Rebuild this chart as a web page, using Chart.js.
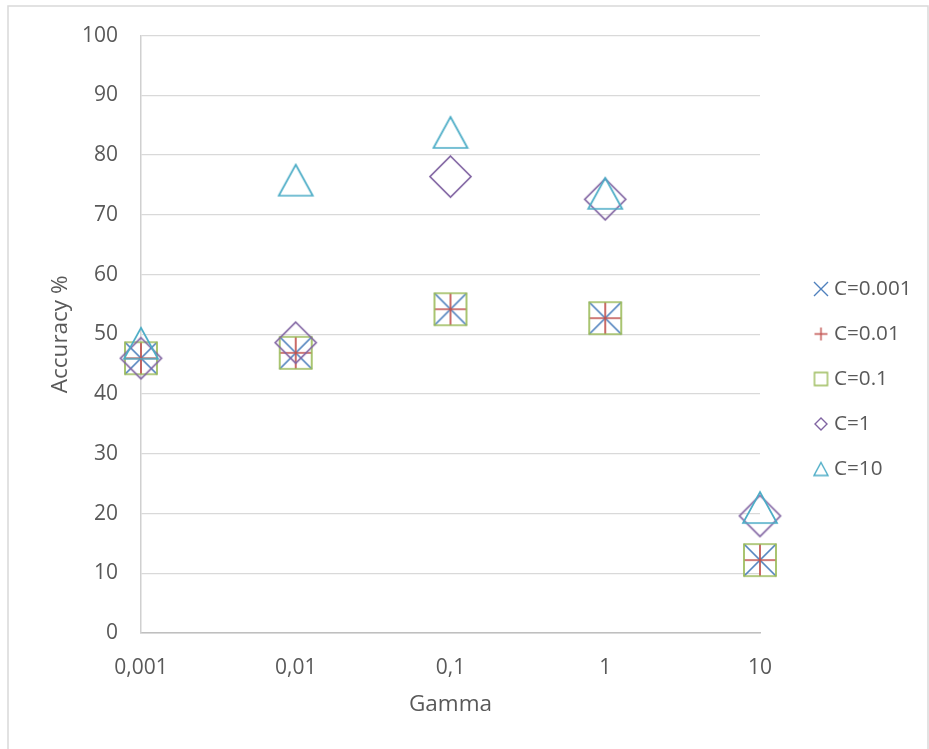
<!DOCTYPE html>
<html>
<head>
<meta charset="utf-8">
<script src="https://cdn.jsdelivr.net/npm/chart.js@4/dist/chart.umd.min.js"></script>
<style>
  html, body { margin: 0; padding: 0; background: #ffffff; }
  canvas { display: block; }
</style>
</head>
<body>
<canvas id="chart" width="929" height="749"></canvas>
<script>
// Gamma values on the x axis and their printed labels
const gammas = [0.001, 0.01, 0.1, 1, 10];
const gammaLabels = ['0,001', '0,01', '0,1', '1', '10'];

// Accuracy (%) per C value, one entry per gamma
const seriesNames = ['C=0.001', 'C=0.01', 'C=0.1', 'C=1', 'C=10'];
const accC0001 = [46.0, 46.9, 54.2, 52.7, 12.2];
const accC001  = [46.0, 46.9, 54.2, 52.7, 12.2];
const accC01   = [46.0, 46.9, 54.2, 52.7, 12.2];
const accC1    = [46.0, 48.6, 76.4, 72.6, 19.6];
const accC10   = [48.5, 75.8, 83.8, 73.6, 21.0];

// Y axis ticks
const yTicks = [0, 10, 20, 30, 40, 50, 60, 70, 80, 90, 100];

const TEXT = '#595959';
const FONT = '"Open Sans", "Noto Sans", sans-serif';
const TICK_FONT = { family: FONT, size: 21 };
const TITLE_FONT = { family: FONT, size: 22.5 };
const LEGEND_FONT = { family: FONT, size: 20.7 };

// Outline markers drawn onto small canvases (centred on the data point)
function markerCanvas(shape, w, h, color, lw) {
  const pad = 2;
  const c = document.createElement('canvas');
  c.width = w + 2 * pad;
  c.height = h + 2 * pad;
  const g = c.getContext('2d');
  g.strokeStyle = color;
  g.lineWidth = lw;
  g.lineJoin = 'miter';
  const x0 = pad, y0 = pad, x1 = pad + w, y1 = pad + h;
  const cx = pad + w / 2, cy = pad + h / 2;
  g.beginPath();
  if (shape === 'x') {
    g.moveTo(x0, y0); g.lineTo(x1, y1);
    g.moveTo(x1, y0); g.lineTo(x0, y1);
  } else if (shape === 'plus') {
    g.moveTo(cx, y0); g.lineTo(cx, y1);
    g.moveTo(x0, cy); g.lineTo(x1, cy);
  } else if (shape === 'square') {
    g.rect(x0, y0, w, h);
  } else if (shape === 'diamond') {
    g.moveTo(cx, y0); g.lineTo(x1, cy); g.lineTo(cx, y1); g.lineTo(x0, cy); g.closePath();
  } else if (shape === 'triangle') {
    g.moveTo(cx, y0); g.lineTo(x1, y1); g.lineTo(x0, y1); g.closePath();
  }
  g.stroke();
  return c;
}

const colors = ['#4F81BD', '#C0504D', '#9BBB59', '#8064A2', '#4BACC6'];
const plotMarkers = [
  markerCanvas('x', 32, 32, colors[0], 1.7),
  markerCanvas('plus', 32, 32, colors[1], 1.7),
  markerCanvas('square', 32, 32, colors[2], 1.7),
  markerCanvas('diamond', 41, 41, colors[3], 1.7),
  markerCanvas('triangle', 34, 31, colors[4], 1.7)
];
const legendMarkers = [
  markerCanvas('x', 14, 14, colors[0], 1.4),
  markerCanvas('plus', 13, 13, colors[1], 1.4),
  markerCanvas('square', 13, 13, colors[2], 1.4),
  markerCanvas('diamond', 12, 12, colors[3], 1.4),
  markerCanvas('triangle', 14, 13, colors[4], 1.4)
];

const seriesValues = [accC0001, accC001, accC01, accC1, accC10];
const datasets = seriesValues.map((vals, i) => ({
  label: seriesNames[i],
  data: gammas.map((g, j) => ({ x: g, y: vals[j] })),
  pointStyle: plotMarkers[i],
  borderColor: colors[i],
  backgroundColor: colors[i],
  showLine: false,
  clip: false,
  order: seriesValues.length - i
}));

// Frame around the whole chart and fixed legend geometry
const framePlugin = {
  id: 'frame',
  afterInit(chart) {
    const lg = chart.legend;
    const fit = lg.fit.bind(lg);
    lg.fit = function () { fit(); this.width = 169; };
  },
  afterLayout(chart) {
    const lg = chart.legend;
    lg.left = 794;
    lg.right = 929;
  },
  beforeDraw(chart) {
    const ctx = chart.ctx;
    ctx.save();
    ctx.strokeStyle = '#D9D9D9';
    ctx.lineWidth = 1.5;
    ctx.strokeRect(8, 6, 920, 800);
    ctx.restore();
  }
};

new Chart(document.getElementById('chart'), {
  type: 'scatter',
  data: { datasets },
  plugins: [framePlugin],
  options: {
    responsive: false,
    animation: false,
    layout: { padding: { left: 0, right: 0, top: 35, bottom: 26 } },
    font: { family: FONT, size: 21 },
    color: TEXT,
    scales: {
      x: {
        type: 'logarithmic',
        min: gammas[0],
        max: gammas[gammas.length - 1],
        afterFit(s) { s.height = 90; },
        afterBuildTicks(s) { s.ticks = gammas.map(v => ({ value: v })); },
        grid: { display: false, drawTicks: false },
        border: { display: true, color: '#BFBFBF', width: 1.5 },
        ticks: {
          padding: 22,
          color: TEXT,
          font: TICK_FONT,
          maxRotation: 0,
          autoSkip: false,
          callback(value) {
            const k = gammas.findIndex(g => Math.abs(g - value) < g * 1e-6);
            return k >= 0 ? gammaLabels[k] : '';
          }
        },
        title: {
          display: true,
          text: 'Gamma',
          color: TEXT,
          font: TITLE_FONT,
          padding: { top: 0, bottom: 5 }
        }
      },
      y: {
        min: yTicks[0],
        max: yTicks[yTicks.length - 1],
        afterFit(s) { s.width = 141; },
        afterBuildTicks(s) { s.ticks = yTicks.map(v => ({ value: v })); },
        grid: { color: '#D9D9D9', lineWidth: 1.3, drawTicks: false },
        border: { display: true, color: '#D0D0D0', width: 1.5 },
        ticks: {
          padding: 23,
          color: TEXT,
          font: TICK_FONT
        },
        title: {
          display: true,
          text: 'Accuracy %',
          color: TEXT,
          font: TITLE_FONT,
          padding: { top: 47, bottom: 0 }
        }
      }
    },
    plugins: {
      tooltip: { enabled: false },
      legend: {
        position: 'right',
        align: 'center',
        labels: {
          usePointStyle: true,
          boxWidth: 5.3,
          boxHeight: 5.3,
          padding: 24.3,
          color: TEXT,
          font: LEGEND_FONT,
          sort: (a, b) => a.datasetIndex - b.datasetIndex,
          generateLabels(chart) {
            const items = Chart.defaults.plugins.legend.labels.generateLabels(chart);
            items.forEach(it => { it.pointStyle = legendMarkers[it.datasetIndex]; });
            return items;
          }
        }
      }
    }
  }
});
</script>
</body>
</html>
